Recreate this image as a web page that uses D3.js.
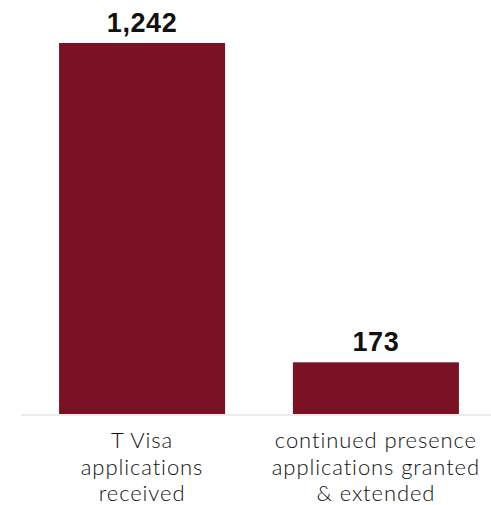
<!DOCTYPE html>
<html>
<head>
<meta charset="utf-8">
<script src="https://cdn.jsdelivr.net/npm/d3@7"></script>
<style>
	body { margin: 0; background: #fff; }
	svg { display: block; }
</style>
</head>
<body>
<svg width="491" height="505"></svg>
<script>
"use strict";

var categories = ["tvisa", "presence"];
var values = [1242, 173];
var valueLabels = ["1,242", "173"];
var categoryLines = [
	["T Visa", "applications", "received"],
	["continued presence", "applications granted", "& extended"]
];

var svg = d3.select('svg');
var baseY = 414;

var x = d3.scaleBand()
	.domain(categories)
	.range([24, 494])
	.paddingInner(0.29)
	.paddingOuter(0.15);

var y = d3.scaleLinear()
	.domain([0, 1242])
	.range([baseY, 43]);

// baseline
svg.append('line')
	.attr('x1', 21)
	.attr('x2', 491)
	.attr('y1', baseY + 1)
	.attr('y2', baseY + 1)
	.attr('stroke', '#ebebeb')
	.attr('stroke-width', 2);

svg.selectAll('rect.bar').data(values)
	.enter().append('rect')
	.attr('class', 'bar')
	.attr('fill', '#7a1124')
	.attr('x', function(d, i) {return x(categories[i])})
	.attr('width', x.bandwidth())
	.attr('y', function(d) {return y(d)})
	.attr('height', function(d) {return baseY - y(d)});

svg.selectAll('text.value').data(values)
	.enter().append('text')
	.attr('class', 'value')
	.attr('x', function(d, i) {return x(categories[i]) + x.bandwidth() / 2})
	.attr('y', function(d) {return y(d) - 11})
	.attr('text-anchor', 'middle')
	.attr('font-family', 'Liberation Sans, Arial, sans-serif')
	.attr('font-weight', 'bold')
	.attr('font-size', 27)
	.attr('letter-spacing', 0.6)
	.attr('fill', '#111')
	.text(function(d, i) {return valueLabels[i]});

var labels = svg.selectAll('text.cat').data(categoryLines)
	.enter().append('text')
	.attr('class', 'cat')
	.attr('text-anchor', 'middle')
	.attr('font-family', 'Lato, sans-serif')
	.attr('font-weight', 300)
	.attr('font-size', 22)
	.attr('letter-spacing', 0.9)
	.attr('fill', '#111')
	.attr('x', function(d, i) {return x(categories[i]) + x.bandwidth() / 2});

labels.selectAll('tspan').data(function(d) {return d})
	.enter().append('tspan')
	.attr('x', function() {return d3.select(this.parentNode).attr('x')})
	.attr('y', function(d, j) {return 448 + j * 26.5})
	.text(function(d) {return d});
</script>
</body>
</html>
